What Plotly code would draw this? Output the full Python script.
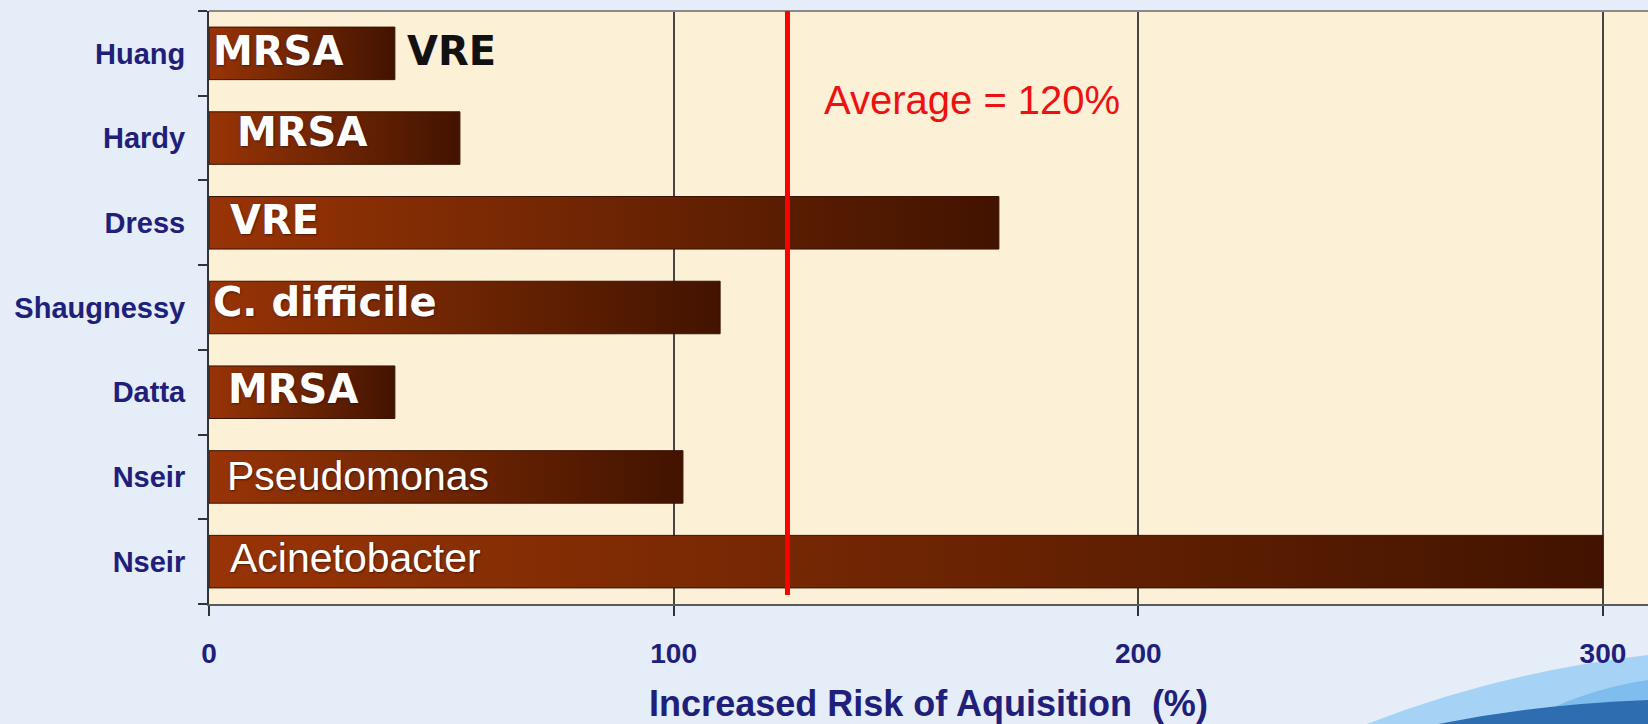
import plotly.graph_objects as go

# ---------------- data ----------------
authors = ["Huang", "Hardy", "Dress", "Shaugnessy", "Datta", "Nseir", "Nseir"]
organisms = ["MRSA", "MRSA", "VRE", "C. difficile", "MRSA", "Pseudomonas", "Acinetobacter"]
risk_increase = [40, 54, 170, 110, 40, 102, 300]
extra_labels = ["VRE", "", "", "", "", "", ""]
x_ticks = [0, 100, 200, 300]
average_line_at = 124.5
average_text = "Average = 120%"
x_title = "Increased Risk of Aquisition \u00a0(%)"

# ---------------- styles ----------------
W, H = 1648, 724
ML, MR, MT, MB = 209, 0, 11, 120
NAVY = "#20207a"
PAPER = "#e5edf8"
PLOT_BG = "#fcf0d6"
BAR_HALF = 0.31
GRAD = [[0, "#983406"], [0.5, "#6e2503"], [1, "#421300"]]
label_xshift = [2, 26, 19, 2, 17, 16, 19]
label_yshift = [2, 6, 3, 6, 3, 1, 4]
label_bold = [True, True, True, True, True, False, False]
SHADOW = "1px 1px 2px rgba(40,10,0,0.6)"

fig = go.Figure()

for i, v in enumerate(risk_increase):
    fig.add_trace(go.Scatter(
        x=[0, v, v, 0, 0],
        y=[i - BAR_HALF, i - BAR_HALF, i + BAR_HALF, i + BAR_HALF, i - BAR_HALF],
        mode="lines", fill="toself",
        fillgradient=dict(type="horizontal", colorscale=GRAD),
        line=dict(color="#3a1103", width=1),
        hoverinfo="skip", showlegend=False,
    ))

annotations = []
for i, (txt, bold) in enumerate(zip(organisms, label_bold)):
    if bold:
        font = dict(family="DejaVu Sans", size=40, color="white", weight="bold", shadow=SHADOW)
    else:
        font = dict(family="Liberation Sans", size=41, color="white", shadow=SHADOW)
    annotations.append(dict(
        x=0, y=i, xref="x", yref="y", text=txt, showarrow=False,
        xanchor="left", yanchor="middle", xshift=label_xshift[i], yshift=label_yshift[i],
        font=font,
    ))
for i, txt in enumerate(extra_labels):
    if txt:
        annotations.append(dict(
            x=risk_increase[i], y=i, xref="x", yref="y", text=txt, showarrow=False,
            xanchor="left", yanchor="middle", xshift=10, yshift=2,
            font=dict(family="DejaVu Sans", size=40, color="#111111", weight="bold"),
        ))

annotations.append(dict(
    x=average_line_at, y=0.85, xref="x", yref="paper", text=average_text, showarrow=False,
    xanchor="left", yanchor="middle", xshift=35,
    font=dict(family="Liberation Sans", size=40, color="#ee1111"),
))

# decorative swoosh (slide background), pixel -> paper coords
pw, ph = W - ML - MR, H - MT - MB
def px(xp, yp):
    return f"{(xp - ML) / pw:.4f},{(H - MB - yp) / ph:.4f}"

shapes = [
    dict(type="path", xref="paper", yref="paper", layer="below",
         path=f"M {px(1367, 724)} Q {px(1500, 672)} {px(1648, 655)} L {px(1648, 724)} Z",
         fillcolor="#a6d3f5", line=dict(width=0)),
    dict(type="path", xref="paper", yref="paper", layer="below",
         path=f"M {px(1520, 724)} Q {px(1580, 690)} {px(1648, 680)} L {px(1648, 724)} Z",
         fillcolor="#7fbdee", line=dict(width=0)),
    dict(type="path", xref="paper", yref="paper", layer="below",
         path=f"M {px(1438, 724)} Q {px(1540, 704)} {px(1648, 700)} L {px(1648, 724)} Z",
         fillcolor="#2e6db0", line=dict(width=0)),
    dict(type="line", xref="paper", yref="paper", x0=0, x1=1, y0=1, y1=1,
         line=dict(color="#8a8a8a", width=2)),
    dict(type="line", xref="x", yref="paper", x0=average_line_at, x1=average_line_at,
         y0=0.015, y1=1.0, line=dict(color="#ff0000", width=5)),
]

fig.update_layout(
    width=W, height=H,
    margin=dict(l=ML, r=MR, t=MT, b=MB, pad=0),
    paper_bgcolor=PAPER, plot_bgcolor=PLOT_BG,
    showlegend=False,
    annotations=annotations, shapes=shapes,
    xaxis=dict(
        range=[0, 309.7], tickvals=x_ticks, ticktext=[str(t) for t in x_ticks],
        ticks="outside", ticklen=10, tickwidth=2, tickcolor="#333333",
        showline=True, linecolor="#5a5a5a", linewidth=2,
        showgrid=True, gridcolor="#454545", gridwidth=2, zeroline=False,
        tickfont=dict(family="Liberation Sans", size=28, color=NAVY, weight="bold"),
        ticklabelstandoff=13,
        title=dict(text=x_title, standoff=26,
                   font=dict(family="Liberation Sans", size=36, color=NAVY, weight="bold")),
        fixedrange=True,
    ),
    yaxis=dict(
        range=[6.5, -0.5], tickvals=list(range(len(authors))), ticktext=authors,
        ticks="", showline=True, linecolor="#333333", linewidth=2,
        showgrid=False, zeroline=False,
        minor=dict(ticks="outside", tick0=-0.5, dtick=1, ticklen=9, tickwidth=2,
                   tickcolor="#333333", showgrid=False),
        tickfont=dict(family="Liberation Sans", size=29, color=NAVY, weight="bold"),
        ticklabelstandoff=16,
        fixedrange=True,
    ),
)

fig.write_html(
    "out.html",
    config={"displayModeBar": False},
    post_script=f"document.body.style.margin='0';document.body.style.overflow='hidden';"
                f"document.body.style.background='{PAPER}';",
)
